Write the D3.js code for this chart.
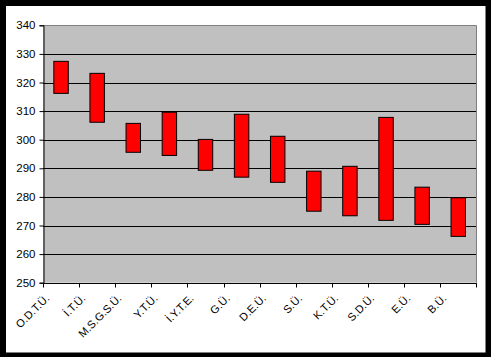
<!DOCTYPE html>
<html>
<head>
<meta charset="utf-8">
<script src="https://cdn.jsdelivr.net/npm/d3@7"></script>
<style>
  html, body { margin: 0; padding: 0; background: #fff; }
  svg { display: block; }
  text { font-family: "Liberation Sans", Arial, sans-serif; }
</style>
</head>
<body>
<svg id="chart" width="491" height="357"></svg>
<script>
const categories = ["O.D.T.Ü.", "İ.T.Ü.", "M.S.G.S.Ü.", "Y.T.Ü.", "İ.Y.T.E.", "G.Ü.", "D.E.Ü.", "S.Ü.", "K.T.Ü.", "S.D.Ü.", "E.Ü.", "B.Ü."];
const highValues = [327.4, 323.2, 305.7, 309.6, 300.1, 308.9, 301.2, 289.0, 290.7, 307.8, 283.4, 279.7];
const lowValues  = [316.2, 306.1, 295.6, 294.5, 289.3, 286.9, 285.1, 275.0, 273.4, 271.8, 270.4, 266.2];
const yTicks = [250, 260, 270, 280, 290, 300, 310, 320, 330, 340];

const svg = d3.select("#chart");
const W = 491, H = 357;

// outer black frame
svg.append("rect").attr("x", 0).attr("y", 0).attr("width", W).attr("height", H).attr("fill", "#000");
svg.append("rect").attr("x", 6).attr("y", 6).attr("width", 479.5).attr("height", 346.5).attr("fill", "#fff");

const plot = { left: 43, top: 25.3, right: 476.3, bottom: 282.7 };

const x = d3.scaleBand().domain(categories).range([plot.left, plot.right]).paddingInner(0).paddingOuter(0);
const y = d3.scaleLinear().domain([250, 340]).range([plot.bottom, plot.top]);

// plot background
svg.append("rect")
  .attr("x", plot.left).attr("y", plot.top)
  .attr("width", plot.right - plot.left).attr("height", plot.bottom - plot.top)
  .attr("fill", "#c0c0c0");

// gridlines
svg.append("g").selectAll("line")
  .data(yTicks.filter(t => t > 250 && t < 340))
  .join("line")
  .attr("x1", plot.left).attr("x2", plot.right)
  .attr("y1", d => Math.round(y(d)) + 0.5).attr("y2", d => Math.round(y(d)) + 0.5)
  .attr("stroke", "#000").attr("stroke-width", 1);

// plot border top/right (gray)
svg.append("path")
  .attr("d", `M${plot.left},${Math.round(plot.top) + 0.5}H${Math.round(plot.right) + 0.5}V${plot.bottom}`)
  .attr("fill", "none").attr("stroke", "#808080").attr("stroke-width", 1);

// bars
svg.append("g").selectAll("rect")
  .data(categories)
  .join("rect")
  .attr("x", d => x(d) + x.bandwidth() * 0.3)
  .attr("width", x.bandwidth() * 0.4)
  .attr("y", (d, i) => y(highValues[i]))
  .attr("height", (d, i) => y(lowValues[i]) - y(highValues[i]))
  .attr("fill", "#ff0000")
  .attr("stroke", "#000")
  .attr("stroke-width", 1);

// y axis
const yAxis = d3.axisLeft(y).tickValues(yTicks).tickSize(4).tickPadding(4).tickFormat(d3.format("d"));
const gy = svg.append("g").attr("transform", `translate(${plot.left + 0.5},0)`).call(yAxis);
gy.select(".domain").attr("stroke", "#000");
gy.selectAll(".tick line").attr("stroke", "#000");
gy.selectAll(".tick text").attr("font-size", 11.5).attr("fill", "#000")
  .attr("font-family", "'Liberation Sans', Arial, sans-serif");

// x axis (ticks at category boundaries)
const gx = svg.append("g").attr("transform", `translate(0,${Math.round(plot.bottom) + 0.5})`);
gx.append("line").attr("x1", plot.left).attr("x2", plot.right + 0.5).attr("stroke", "#000");
const boundaries = categories.map(c => x(c)).concat([x.range()[1]]);
gx.selectAll("line.tk").data(boundaries).join("line").attr("class", "tk")
  .attr("x1", d => Math.round(d) + 0.5).attr("x2", d => Math.round(d) + 0.5)
  .attr("y1", 0).attr("y2", 4).attr("stroke", "#000");

// category labels
svg.append("g").selectAll("text")
  .data(categories)
  .join("text")
  .attr("transform", d => `translate(${x(d) + x.bandwidth() / 2 - 11},299) rotate(-45)`)
  .attr("text-anchor", "end")
  .attr("font-size", 11)
  .attr("fill", "#000")
  .text(d => d);
</script>
</body>
</html>
